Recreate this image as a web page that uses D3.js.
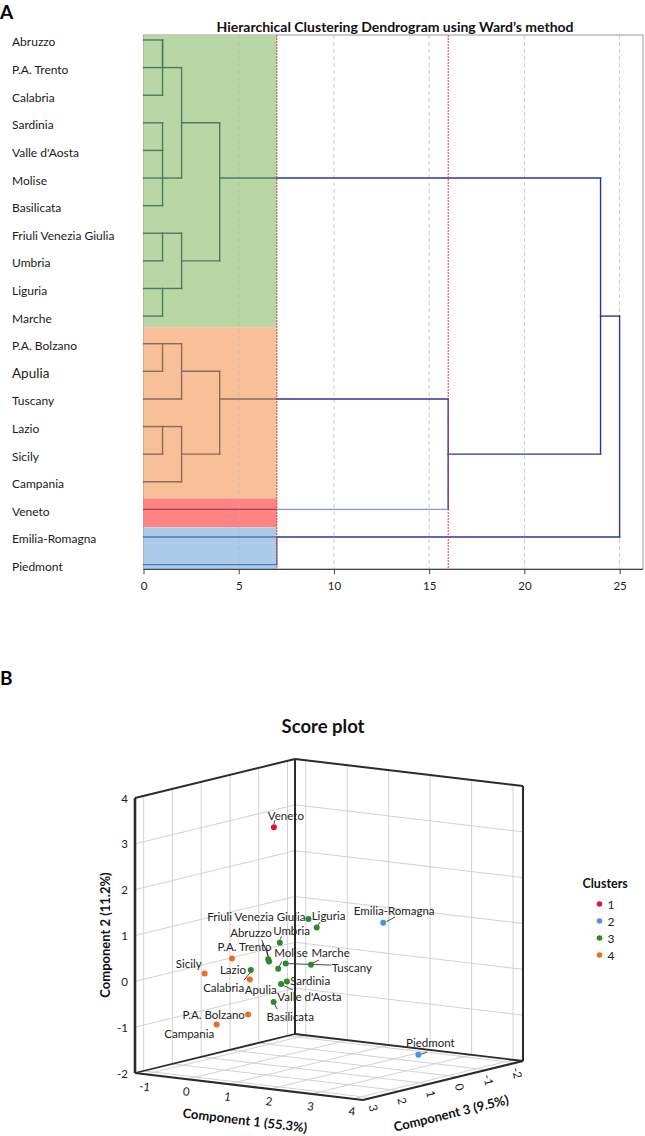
<!DOCTYPE html>
<html><head><meta charset="utf-8">
<script src="https://cdn.jsdelivr.net/npm/d3@7"></script>
<style>body{margin:0;background:#fff;} svg{display:block;font-family:Lato,"Open Sans",sans-serif;}</style>
</head><body>
<svg id="c" width="645" height="1136"></svg>
<script>
// ================= DATA =================
// Panel A: dendrogram leaves (top to bottom)
const regions = ["Abruzzo","P.A. Trento","Calabria","Sardinia","Valle d'Aosta","Molise","Basilicata",
  "Friuli Venezia Giulia","Umbria","Liguria","Marche","P.A. Bolzano","Apulia","Tuscany","Lazio",
  "Sicily","Campania","Veneto","Emilia-Romagna","Piedmont"];
// merges: [child A id, child B id, rescaled distance, row of merged node]; ids 0-19 leaves, 20+ merges
const merges = [
  [0,1,1,0],[20,2,1,1],[3,4,1,4],[5,6,1,5],[22,23,1,5],[21,24,2,3],
  [7,8,1,7],[9,10,1,9],[26,27,2,8],[25,28,4,5],
  [11,12,1,11],[30,13,2,12],[14,15,1,14],[32,16,2,15],[31,33,4,13],
  [34,17,16,15],[29,35,24,10],[18,19,7,18],[36,37,25,10]
];
const bandEdges = [-0.18, 10.4, 16.6, 17.65, 19.17];   // cluster bands in row units
const cutHeights = [7, 16];
const distanceTicks = [0,5,10,15,20,25];

// Panel B: score plot
const scoreNames = ["Veneto","Emilia-Romagna","Piedmont","Friuli Venezia Giulia","Liguria","Umbria",
  "P.A. Trento","Abruzzo","Molise","Tuscany","Marche","Calabria","Sardinia","Valle d'Aosta","Basilicata",
  "Sicily","Lazio","Apulia","P.A. Bolzano","Campania"];
const comp1 = [-0.20, 3.20, 3.50, 0.98, 1.18, 0.29, 0.01, 0.03, 0.25, 0.43, 1.04, -0.41, 0.46, 0.32, 0.14, -0.83, -0.17, 0.26, 0.22, -0.54];
const comp2 = [ 2.97, 1.42, -1.55, 1.17, 1.01, 0.58, 0.19, 0.14, 0.01, 0.14, 0.18, -0.09, -0.25, -0.32, -0.73, -0.06, 0.34, -0.07, -0.84, -1.14];
const comp3 = [ 0.00, 1.10, 0.31, 0.5, 0.5, 0.5, 0.5, 0.5, 0.5, 0.5, 0.5, 0.5, 0.5, 0.5, 0.5, 1.5, 1.5, 1.5, 1.5, 1.5];
const scoreCluster = [1,2,2,3,3,3,3,3,3,3,3,3,3,3,3,4,4,4,4,4];
const clusterIds = [1,2,3,4];
const c1Ticks = [-1,0,1,2,3,4];
const c2Ticks = [-2,-1,0,1,2,3,4];
const c3Ticks = [-2,-1,0,1,2,3];

// ================= STYLE / LAYOUT =================
const bandFill = ["#b9d7a5","#f8c099","#ff8383","#abcbe9"];
const bandLine = ["#4f7862","#8d6a5b","#a04655","#4e78b5"];
const navy = "#23399a", lightNavy = "#8797d4";
const clusterColor = {1:"#dc143c",2:"#4b91e6",3:"#2a8a2a",4:"#f26a22"};
// label placement relative to dot: [dx, dy, anchor], optional leader [x1,y1,x2,y2]
const labelLayout = {
  "Veneto":[12,-11.6,"middle",[1,-7,0,-3]],
  "Emilia-Romagna":[11,-12,"middle",[3.4,-1,11.7,-5.7]],
  "Piedmont":[12,-12.3,"middle",[1,0,8.5,-2.5]],
  "Friuli Venezia Giulia":[-3,-3,"end",null],
  "Liguria":[-5,-12,"start",[0.5,-0.5,3.5,-5.5]],
  "Umbria":[-6.7,-12,"start",[2,-6.5,0,-3]],
  "P.A. Trento":[3.4,-12.6,"end",[-1.6,-11,0,-2.5]],
  "Abruzzo":[2.7,-29,"end",[-7.3,-21.7,0,-3.4]],
  "Molise":[-4,-16,"start",[3.7,-7,0.7,-1.7]],
  "Tuscany":[46,4,"start",[0,0,45.5,1.5]],
  "Marche":[0.7,-12.4,"start",[1,-1.2,8,-4.7]],
  "Calabria":[-6.7,17.7,"end",[-6.7,10,-0.7,2.7]],
  "Sardinia":[3.3,-0.7,"start",null],
  "Valle d'Aosta":[-3.7,12.4,"start",[1,0.7,11.7,5.7]],
  "Basilicata":[-7,14.7,"start",[0.3,1,3.6,7.3]],
  "Sicily":[-3,-10.4,"end",null],
  "Lazio":[-12,11,"start",null],
  "Apulia":[-5,9.7,"start",null],
  "P.A. Bolzano":[-3.3,0,"end",null],
  "Campania":[-2.4,9.3,"end",null]
};

const svg = d3.select("#c");

// ================= PANEL A =================
svg.append("text").attr("x",0).attr("y",19).attr("font-size",19).attr("font-weight","bold").text("A");
svg.append("text").attr("x",395).attr("y",32).attr("text-anchor","middle").attr("font-size",14)
  .attr("font-weight","bold").attr("fill","#111").text("Hierarchical Clustering Dendrogram using Ward\u2019s method");

const xD = d3.scaleLinear().domain([0,25]).range([143.5,619.6]);
const yD = d3.scaleLinear().domain([bandEdges[0], bandEdges[bandEdges.length-1]]).range([35,569.3]);
const plotRight = 643;

const gA = svg.append("g");
// frame
gA.append("rect").attr("x",xD(0)).attr("y",yD.range()[0]).attr("width",plotRight-xD(0))
  .attr("height",yD.range()[1]-yD.range()[0]).attr("fill","none").attr("stroke","#9a9a9a").attr("stroke-width",1);
// cluster bands
for (let i=0;i<bandEdges.length-1;i++){
  gA.append("rect").attr("x",xD(0)).attr("y",yD(bandEdges[i])).attr("width",xD(cutHeights[0])-xD(0))
    .attr("height",yD(bandEdges[i+1])-yD(bandEdges[i])).attr("fill",bandFill[i]);
}
// grid
gA.selectAll("line.grid").data(distanceTicks.filter(d=>d>0)).join("line").attr("class","grid")
  .attr("x1",d=>xD(d)).attr("x2",d=>xD(d)).attr("y1",yD.range()[0]).attr("y2",yD.range()[1])
  .attr("stroke","#b5b5b5").attr("stroke-opacity",0.7).attr("stroke-dasharray","4,3").attr("stroke-width",1);

// build tree segments
const nodes = regions.map((r,i)=>({row:i,h:0,leaf:true}));
merges.forEach(m=>nodes.push({row:m[3],h:m[2],leaf:false}));
function bandOf(row){for(let i=0;i<bandEdges.length-1;i++) if(row>=bandEdges[i]&&row<bandEdges[i+1]) return i; return bandEdges.length-2;}
const segs=[];
const cut=cutHeights[0];
merges.forEach(m=>{
  const a=nodes[m[0]], b=nodes[m[1]], h=m[2];
  const r1=Math.min(a.row,b.row), r2=Math.max(a.row,b.row);
  if (r2>r1) segs.push({x1:h,x2:h,y1:r1,y2:r2,color: h<=cut? bandLine[bandOf(r1)] : navy});
  [a,b].forEach(c=>{
    if (h>c.h){
      if (c.h<cut){
        segs.push({x1:c.h,x2:Math.min(h,cut),y1:c.row,y2:c.row,color:bandLine[bandOf(c.row)]});
      }
      if (h>cut){
        segs.push({x1:Math.max(c.h,cut),x2:h,y1:c.row,y2:c.row,color:c.leaf?lightNavy:navy});
      }
    }
  });
});
gA.selectAll("line.seg").data(segs).join("line").attr("class","seg")
  .attr("x1",d=>xD(d.x1)).attr("x2",d=>xD(d.x2)).attr("y1",d=>yD(d.y1)).attr("y2",d=>yD(d.y2))
  .attr("stroke",d=>d.color).attr("stroke-width",1.4).attr("stroke-linecap","square");
// cut lines
gA.selectAll("line.cut").data(cutHeights).join("line").attr("class","cut")
  .attr("x1",d=>xD(d)).attr("x2",d=>xD(d)).attr("y1",yD.range()[0]).attr("y2",yD.range()[1])
  .attr("stroke","#e23a3a").attr("stroke-width",1).attr("stroke-dasharray","2,1");
// axis
const axA = gA.append("g").attr("transform",`translate(0,${yD.range()[1]})`)
  .call(d3.axisBottom(xD).tickValues(distanceTicks).tickSize(5).tickPadding(8));
axA.select(".domain").remove();
axA.selectAll(".tick line").attr("stroke","#444");
axA.selectAll(".tick text").attr("font-size",11.5).attr("fill","#222").attr("font-family","Lato, sans-serif");
gA.append("line").attr("x1",xD(0)).attr("x2",plotRight).attr("y1",yD.range()[1]).attr("y2",yD.range()[1])
  .attr("stroke","#444").attr("stroke-width",1.3);
// leaf labels
gA.selectAll("text.leaf").data(regions).join("text").attr("class","leaf")
  .attr("x",12).attr("y",(d,i)=>yD(i)+2).attr("dominant-baseline","central")
  .attr("font-size",d=>d==="Apulia"?13.5:12).attr("fill","#1a1a1a").text(d=>d);

// ================= PANEL B =================
svg.append("text").attr("x",0).attr("y",685).attr("font-size",19).attr("font-weight","bold").text("B");
svg.append("text").attr("x",323).attr("y",733).attr("text-anchor","middle").attr("font-size",18.5)
  .attr("font-weight","bold").attr("fill","#111").text("Score plot");

const O=[135,1073], E1=[228,27], E2=[0,-275], E3=[160,-39];
const s1 = d3.scaleLinear().domain([-1.26,4.24]).range([0,1]);
const s2 = d3.scaleLinear().domain([-2,4]).range([0,1]);
const s3 = d3.scaleLinear().domain([3.3,-2.26]).range([0,1]);
const P=(a,b,c)=>{const u=s1(a),v=s2(b),w=s3(c);return [O[0]+u*E1[0]+v*E2[0]+w*E3[0], O[1]+u*E1[1]+v*E2[1]+w*E3[1]];};
const [a0,a1]=s1.domain(), [b0,b1]=s2.domain(), [cMax,cMin]=s3.domain();
const gB = svg.append("g");
const line3 = (p,q,stroke,w)=>{const A=P(...p),B=P(...q);
  gB.append("line").attr("x1",A[0]).attr("y1",A[1]).attr("x2",B[0]).attr("y2",B[1]).attr("stroke",stroke).attr("stroke-width",w);};
const gridC="#d2d2d2";
// left wall (c1=min): verticals at c3 ticks, horizontals at c2 ticks
c3Ticks.forEach(t=>line3([a0,b0,t],[a0,b1,t],gridC,1));
c2Ticks.filter(t=>t>b0&&t<b1).forEach(t=>line3([a0,t,cMax],[a0,t,cMin],gridC,1));
// back wall (c3=min)
c1Ticks.forEach(t=>line3([t,b0,cMin],[t,b1,cMin],gridC,1));
c2Ticks.filter(t=>t>b0&&t<b1).forEach(t=>line3([a0,t,cMin],[a1,t,cMin],gridC,1));
// floor
c1Ticks.forEach(t=>line3([t,b0,cMax],[t,b0,cMin],gridC,1));
c3Ticks.forEach(t=>line3([a0,b0,t],[a1,b0,t],gridC,1));
// box edges
const ec="#2b2b2b";
line3([a0,b0,cMax],[a0,b1,cMax],ec,2.6);
line3([a0,b0,cMin],[a0,b1,cMin],ec,2);
line3([a1,b0,cMin],[a1,b1,cMin],ec,2);
line3([a0,b1,cMax],[a0,b1,cMin],ec,2);
line3([a0,b1,cMin],[a1,b1,cMin],ec,2);
line3([a0,b0,cMax],[a1,b0,cMax],ec,2.2);
line3([a1,b0,cMax],[a1,b0,cMin],ec,2.2);
line3([a0,b0,cMax],[a0,b0,cMin],ec,1.8);
line3([a0,b0,cMin],[a1,b0,cMin],ec,1.8);

// tick labels
c2Ticks.forEach(t=>{const p=P(a0,t,cMax);
  gB.append("text").attr("x",p[0]-7).attr("y",p[1]).attr("text-anchor","end").attr("dominant-baseline","central")
    .attr("font-size",11.5).attr("fill","#222").text(t);});
const ang1=Math.atan2(E1[1],E1[0])*180/Math.PI;
c1Ticks.forEach(t=>{const p=P(t,b0,cMax);
  gB.append("text").attr("transform",`translate(${p[0]-1},${p[1]+12}) rotate(${ang1})`).attr("text-anchor","middle")
    .attr("dominant-baseline","central").attr("font-size",11.5).attr("fill","#222").text(t);});
const ang3=Math.atan2(E3[1],E3[0])*180/Math.PI;
c3Ticks.forEach(t=>{const p=P(a1,b0,t);
  gB.append("text").attr("transform",`translate(${p[0]+2},${p[1]+10}) rotate(${90+ang3})`).attr("text-anchor","middle")
    .attr("dominant-baseline","central").attr("font-size",11.5).attr("fill","#222").text(t);});
// axis titles
gB.append("text").attr("transform","translate(105,935) rotate(-90)").attr("text-anchor","middle").attr("dominant-baseline","central")
  .attr("font-size",13).attr("font-weight","bold").attr("fill","#111").text("Component 2 (11.2%)");
gB.append("text").attr("transform",`translate(245,1120) rotate(${ang1})`).attr("text-anchor","middle").attr("dominant-baseline","central")
  .attr("font-size",13).attr("font-weight","bold").attr("fill","#111").text("Component 1 (55.3%)");
gB.append("text").attr("transform",`translate(451,1113) rotate(${ang3})`).attr("text-anchor","middle").attr("dominant-baseline","central")
  .attr("font-size",13).attr("font-weight","bold").attr("fill","#111").text("Component 3 (9.5%)");

// points
const pts = scoreNames.map((n,i)=>{const p=P(comp1[i],comp2[i],comp3[i]);return {name:n,x:p[0],y:p[1],cl:scoreCluster[i]};});
pts.forEach(d=>{const L=labelLayout[d.name]; if(L&&L[3]){const l=L[3];
  gB.append("line").attr("x1",d.x+l[0]).attr("y1",d.y+l[1]).attr("x2",d.x+l[2]).attr("y2",d.y+l[3]).attr("stroke","#333").attr("stroke-width",0.9);}});
gB.selectAll("circle.pt").data(pts).join("circle").attr("class","pt").attr("cx",d=>d.x).attr("cy",d=>d.y).attr("r",3)
  .attr("fill",d=>clusterColor[d.cl]);
gB.selectAll("text.pl").data(pts).join("text").attr("class","pl")
  .attr("x",d=>d.x+labelLayout[d.name][0]).attr("y",d=>d.y+labelLayout[d.name][1])
  .attr("text-anchor",d=>labelLayout[d.name][2]).attr("dominant-baseline","central")
  .attr("font-size",11.5).attr("fill","#222").text(d=>d.name);

// legend
const lg = svg.append("g");
lg.append("text").attr("x",582.5).attr("y",883).attr("dominant-baseline","central").attr("font-size",12.5)
  .attr("font-weight","bold").attr("fill","#111").text("Clusters");
const ly = d3.scalePoint().domain(clusterIds).range([904,955]);
lg.selectAll("circle").data(clusterIds).join("circle").attr("cx",599.5).attr("cy",d=>ly(d)).attr("r",2.8).attr("fill",d=>clusterColor[d]);
lg.selectAll("text.li").data(clusterIds).join("text").attr("class","li").attr("x",607.5).attr("y",d=>ly(d))
  .attr("dominant-baseline","central").attr("font-size",12).attr("fill","#222").text(d=>d);
</script>
</body></html>
